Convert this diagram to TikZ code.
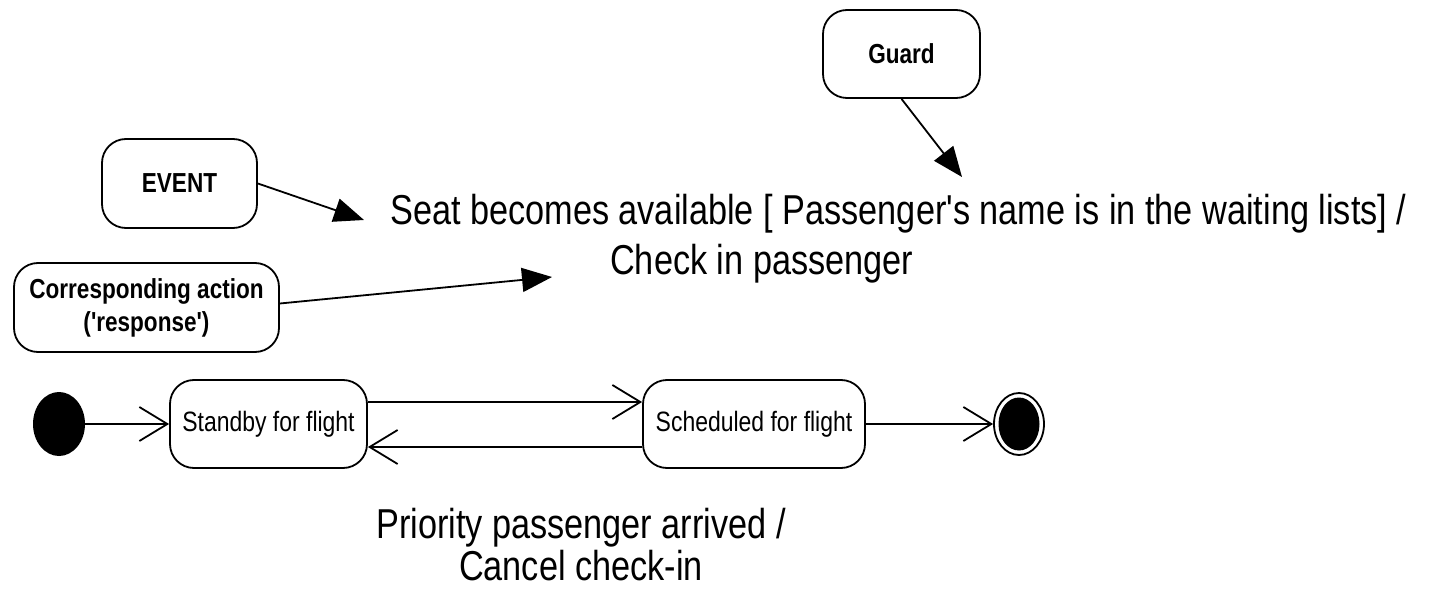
\documentclass[tikz,border=0pt]{standalone}
\usepackage{fontspec}
\newfontfamily\nf{Liberation Sans}[FakeStretch=0.82]
\usetikzlibrary{arrows.meta,shapes.geometric}
\begin{document}
\begin{tikzpicture}[x=1pt,y=-1pt,
  every node/.style={inner sep=0pt},
  statebox/.style={draw, line width=1.8pt, rounded corners=24pt, minimum height=88pt, font=\nf\fontsize{28}{33}\selectfont},
  notebox/.style={draw, line width=1.8pt, rounded corners=24pt, align=center, minimum height=88pt, font=\nf\bfseries\fontsize{27.5}{33}\selectfont},
  trans/.style={line width=1.8pt, -{Straight Barb[length=28pt,width=34pt,line width=1.8pt]}},
  pointer/.style={line width=1.8pt, -{Triangle[length=30pt,width=24pt]}},
  bigtext/.style={font=\nf\fontsize{41.8}{51}\selectfont}
]
\useasboundingbox (0,0) rectangle (1433,596);

% states
\node[ellipse, fill=black, minimum width=52pt, minimum height=64pt] (init) at (59,424) {};
\node[statebox, minimum width=197pt] (standby) at (268.5,424) {Standby for flight};
\node[statebox, minimum width=222pt] (sched) at (754,424) {Scheduled for flight};
\node[ellipse, draw, line width=1.8pt, minimum width=50pt, minimum height=62pt] (final) at (1019,424) {};
\node[ellipse, fill=black, minimum width=41pt, minimum height=53pt] (finalin) at (final.center) {};

% transitions
\draw[trans] (init.east) -- (standby.west);
\draw[trans] ([yshift=22pt]standby.east) -- ([yshift=22pt]sched.west);
\draw[trans] ([yshift=-23pt]sched.west) -- ([yshift=-23pt]standby.east);
\draw[trans] (sched.east) -- (final.west);

% labels (base anchor = baseline of the last line)
\node[bigtext, align=left, anchor=base west] (seat) at (390,275)
  {Seat becomes available [ Passenger's name is in the waiting lists] /\\\hspace*{220pt}Check in passenger};
\node[font=\nf\fontsize{41.8}{42}\selectfont, align=center, anchor=base] (prio) at (581,580)
  {Priority passenger arrived /\\Cancel check-in};

% annotation boxes
\node[notebox, minimum width=157pt] (guard) at (901.5,54) {Guard};
\node[notebox, minimum width=155pt, minimum height=89pt] (event) at (179.5,183.5) {EVENT};
\node[notebox, minimum width=265pt, minimum height=89pt] (action) at (146.5,307.5) {Corresponding action\\('response')};

\coordinate (gtip) at (962,177);
\coordinate (etip) at (364,220);
\coordinate (atip) at (552,277);

\draw[pointer] (guard.south) -- (gtip);
\draw[pointer] (event.east) -- (etip);
\draw[pointer] ([yshift=4pt]action.east) -- (atip);
\end{tikzpicture}
\end{document}
